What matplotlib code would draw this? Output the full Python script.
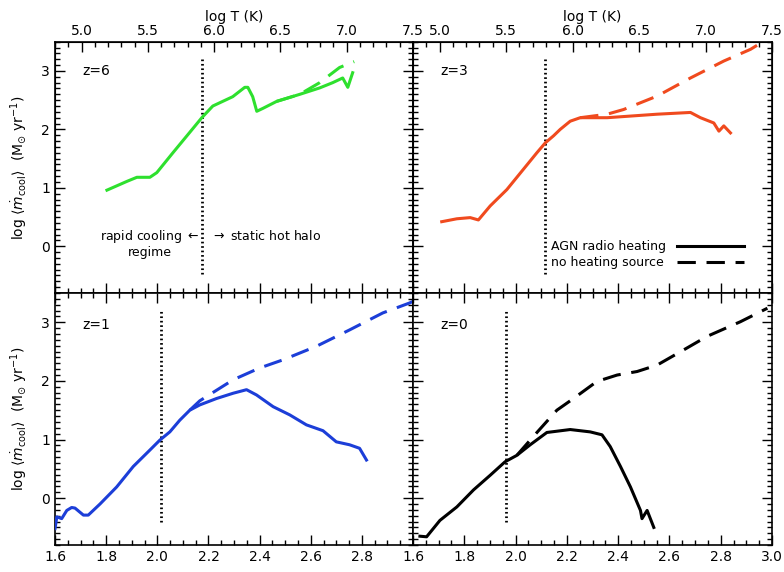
import matplotlib
matplotlib.use('Agg')
import matplotlib.pyplot as plt
import matplotlib.ticker as ticker

# log V_vir grid points and log <mdot_cool> for each redshift
Z6_X = [1.803, 1.881, 1.92, 1.971, 1.998, 2.061, 2.127, 2.174, 2.217, 2.295, 2.342, 2.354, 2.373,
        2.389, 2.413, 2.467, 2.557, 2.635, 2.686, 2.725, 2.745, 2.764]
Z6_HEAT = [0.96, 1.11, 1.18, 1.18, 1.26, 1.60, 1.95, 2.20, 2.40, 2.56, 2.72, 2.72, 2.56,
           2.31, 2.36, 2.48, 2.60, 2.71, 2.80, 2.88, 2.72, 2.97]
Z6_NOHEAT_X = [2.467, 2.557, 2.635, 2.713, 2.77]
Z6_NOHEAT = [2.48, 2.60, 2.80, 3.06, 3.16]

Z3_X = [1.712, 1.771, 1.823, 1.855, 1.901, 1.966, 2.031, 2.083, 2.116, 2.148, 2.174, 2.213, 2.252,
        2.357, 2.552, 2.682, 2.721, 2.773, 2.793, 2.812, 2.838]
Z3_HEAT = [0.42, 0.47, 0.49, 0.45, 0.69, 0.97, 1.32, 1.60, 1.77, 1.89, 2.00, 2.14, 2.20,
           2.20, 2.26, 2.29, 2.20, 2.11, 1.97, 2.06, 1.94]
Z3_NOHEAT_X = [2.252, 2.357, 2.421, 2.552, 2.682, 2.812, 2.916, 2.968]
Z3_NOHEAT = [2.20, 2.26, 2.34, 2.57, 2.88, 3.17, 3.37, 3.51]

Z1_X = [1.6, 1.607, 1.626, 1.646, 1.665, 1.678, 1.711, 1.730, 1.776, 1.841, 1.906, 1.971, 2.010,
        2.049, 2.088, 2.127, 2.166, 2.232, 2.297, 2.349, 2.388, 2.453, 2.518, 2.583, 2.648,
        2.700, 2.752, 2.791, 2.818]
Z1_HEAT = [-0.52, -0.32, -0.35, -0.21, -0.16, -0.17, -0.29, -0.29, -0.10, 0.19, 0.54, 0.82, 0.99,
           1.13, 1.33, 1.50, 1.59, 1.70, 1.79, 1.85, 1.76, 1.56, 1.42, 1.25, 1.15,
           0.96, 0.91, 0.85, 0.65]
Z1_NOHEAT_X = [2.127, 2.166, 2.297, 2.40, 2.492, 2.622, 2.752, 2.882, 2.987, 3.02]
Z1_NOHEAT = [1.50, 1.66, 2.02, 2.22, 2.36, 2.59, 2.87, 3.16, 3.33, 3.40]

Z0_X = [1.627, 1.653, 1.705, 1.771, 1.836, 1.901, 1.959, 2.005, 2.057, 2.122, 2.213, 2.291, 2.337,
        2.369, 2.409, 2.448, 2.487, 2.493, 2.513, 2.539]
Z0_HEAT = [-0.65, -0.66, -0.38, -0.15, 0.14, 0.39, 0.62, 0.73, 0.91, 1.12, 1.17, 1.13, 1.08,
           0.88, 0.54, 0.19, -0.21, -0.35, -0.21, -0.50]
Z0_NOHEAT_X = [2.005, 2.069, 2.161, 2.226, 2.317, 2.396, 2.474, 2.552, 2.656, 2.747, 2.877, 2.982]
Z0_NOHEAT = [0.73, 1.05, 1.50, 1.70, 1.99, 2.10, 2.16, 2.27, 2.53, 2.76, 3.01, 3.24]

PANELS = [
    {'label': 'z=6', 'color': '#2ee02e', 'x': Z6_X, 'heat': Z6_HEAT,
     'nx': Z6_NOHEAT_X, 'noheat': Z6_NOHEAT, 'vline': 2.174, 'vy': (-0.48, 3.2)},
    {'label': 'z=3', 'color': '#f04a1e', 'x': Z3_X, 'heat': Z3_HEAT,
     'nx': Z3_NOHEAT_X, 'noheat': Z3_NOHEAT, 'vline': 2.116, 'vy': (-0.48, 3.2)},
    {'label': 'z=1', 'color': '#1c3ed8', 'x': Z1_X, 'heat': Z1_HEAT,
     'nx': Z1_NOHEAT_X, 'noheat': Z1_NOHEAT, 'vline': 2.013, 'vy': (-0.40, 3.21)},
    {'label': 'z=0', 'color': 'black', 'x': Z0_X, 'heat': Z0_HEAT,
     'nx': Z0_NOHEAT_X, 'noheat': Z0_NOHEAT, 'vline': 1.962, 'vy': (-0.40, 3.21)},
]

XLIM = (1.6, 3.0)
YLIM = (-0.8, 3.5)
TLIM = (4.8, 7.5)
YLABEL = r'log $\langle\dot{m}_{\rm cool}\rangle$  (M$_{\odot}$ yr$^{-1}$)'

plt.rcParams['font.family'] = 'DejaVu Sans'
plt.rcParams['font.size'] = 10

fig = plt.figure(figsize=(7.84, 5.72), dpi=100)
left, right, top, bottom = 0.0702, 0.9847, 0.927, 0.0472
midx, midy = 0.5268, 0.4878
boxes = [
    [left, midy, midx - left, top - midy],
    [midx, midy, right - midx, top - midy],
    [left, bottom, midx - left, midy - bottom],
    [midx, bottom, right - midx, midy - bottom],
]


def style_axes(ax):
    ax.set_xlim(*XLIM)
    ax.set_ylim(*YLIM)
    ax.xaxis.set_major_locator(ticker.MultipleLocator(0.2))
    ax.xaxis.set_minor_locator(ticker.MultipleLocator(0.05))
    ax.yaxis.set_major_locator(ticker.MultipleLocator(1))
    ax.yaxis.set_minor_locator(ticker.MultipleLocator(0.1))
    ax.tick_params(which='both', direction='in', top=True, right=True, width=1.0)
    ax.tick_params(which='major', length=7)
    ax.tick_params(which='minor', length=3.5)
    for sp in ax.spines.values():
        sp.set_linewidth(1.2)


for i, (box, p) in enumerate(zip(boxes, PANELS)):
    ax = fig.add_axes(box)
    style_axes(ax)
    c = p['color']
    ax.plot(p['nx'], p['noheat'], color=c, lw=2.2, ls=(0, (6, 3.5)), zorder=2)
    ax.plot(p['x'], p['heat'], color=c, lw=2.2, solid_joinstyle='round', zorder=3)
    ax.plot([p['vline'], p['vline']], p['vy'], color='black', lw=2.0, ls=(0, (0.6, 1.0)), zorder=1)
    ax.text(1.705, 3.0 if i < 2 else 2.96, p['label'], fontsize=10, va='center', ha='left')

    # top row carries the log T axis, bottom row the log V labels
    if i < 2:
        ax.set_xticklabels([])
        sec = ax.twiny()
        sec.set_xlim(*TLIM)
        sec.xaxis.set_major_locator(ticker.MultipleLocator(0.5))
        sec.xaxis.set_minor_locator(ticker.MultipleLocator(0.1))
        sec.xaxis.set_major_formatter(ticker.FormatStrFormatter('%.1f'))
        sec.tick_params(which='both', direction='in', width=1.0, pad=3)
        sec.tick_params(which='major', length=7)
        sec.tick_params(which='minor', length=3.5)
        sec.set_xlabel('log T (K)', labelpad=2)
        ax.tick_params(axis='x', which='both', top=False)
    else:
        ax.xaxis.set_major_formatter(ticker.FormatStrFormatter('%.1f'))
        if i == 2:
            ax.set_xticks([1.6, 1.8, 2.0, 2.2, 2.4, 2.6, 2.8])
    if i % 2 == 0:
        ax.set_ylabel(YLABEL, labelpad=8)
    else:
        ax.set_yticklabels([])

    if i == 0:
        ax.text(2.165, 0.17, r'rapid cooling $\leftarrow$', ha='right', va='center', fontsize=9)
        ax.text(1.97, -0.10, 'regime', ha='center', va='center', fontsize=9)
        ax.text(2.21, 0.17, r'$\rightarrow$ static hot halo', ha='left', va='center', fontsize=9)
    if i == 1:
        ax.text(2.14, 0.0, 'AGN radio heating', ha='left', va='center', fontsize=9)
        ax.text(2.14, -0.27, 'no heating source', ha='left', va='center', fontsize=9)
        ax.plot([2.63, 2.89], [0.0, 0.0], color='black', lw=2.2)
        ax.plot([2.63, 2.89], [-0.27, -0.27], color='black', lw=2.2, ls=(0, (6, 3.5)))

fig.savefig('out.png', dpi=100)
